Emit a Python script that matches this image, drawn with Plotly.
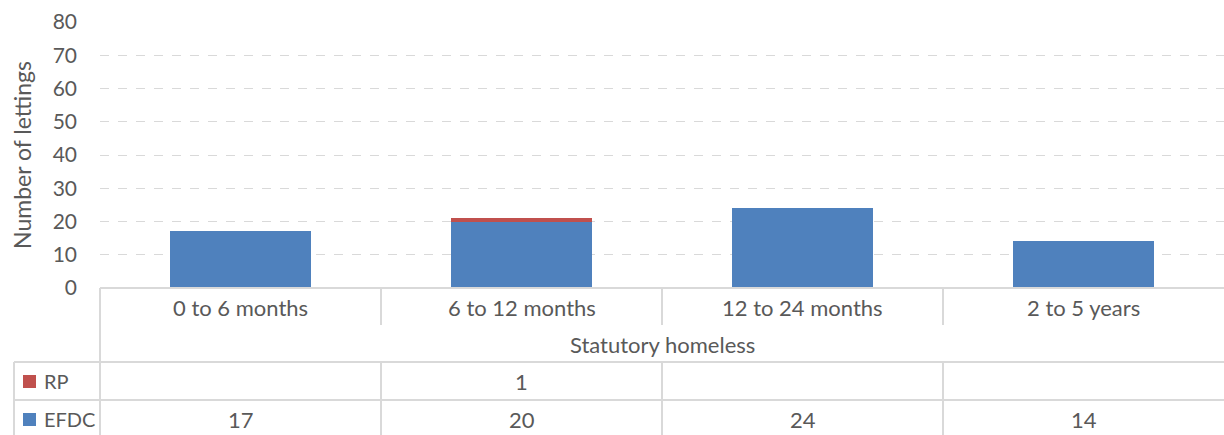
import plotly.graph_objects as go

categories = ["0 to 6 months", "6 to 12 months", "12 to 24 months", "2 to 5 years"]
group_label = "Statutory homeless"
series_names = ["EFDC", "RP"]
efdc = [17, 20, 24, 14]
rp = [None, 1, None, None]
colors = {"EFDC": "#4F81BD", "RP": "#C0504D"}
y_ticks = [0, 10, 20, 30, 40, 50, 60, 70, 80]

W, H = 1224, 435
ML, MR, MT, MB = 100, 0, 22, 147
PW, PH = W - ML - MR, H - MT - MB
FONT = "Lato"
TXT = "#595959"
LINE = "#D9D9D9"
FS = 22

def px_to_py(py):
    return (H - MB - py) / PH

def px_to_px(px):
    return (px - ML) / PW

fig = go.Figure()
fig.add_trace(go.Bar(x=categories, y=efdc, name="EFDC", marker_color=colors["EFDC"], marker_line_width=0))
fig.add_trace(go.Bar(x=categories, y=rp, name="RP", marker_color=colors["RP"], marker_line_width=0))

n = len(categories)
shapes = []
annots = []

def hline(x0, x1, py):
    shapes.append(dict(type="line", xref="paper", yref="paper", x0=x0, x1=x1,
                       y0=px_to_py(py), y1=px_to_py(py), line=dict(color=LINE, width=2)))

def vline(x, py0, py1):
    shapes.append(dict(type="line", xref="paper", yref="paper", x0=x, x1=x,
                       y0=px_to_py(py0), y1=px_to_py(py1), line=dict(color=LINE, width=2)))

# axis / table lines
hline(0, 1, 288)
hline(px_to_px(14), 1, 362)
hline(px_to_px(14), 1, 400)
vline(0, 288, 440)
vline(px_to_px(14), 362, 440)
for i in range(1, n):
    vline(i / n, 288, 325)
    vline(i / n, 362, 440)

# category labels
for c in categories:
    annots.append(dict(x=c, xref="x", y=px_to_py(307), yref="paper", text=c, showarrow=False,
                       font=dict(family=FONT, size=FS, color=TXT), xanchor="center", yanchor="middle"))
annots.append(dict(x=0.5, xref="paper", y=px_to_py(344), yref="paper", text=group_label, showarrow=False,
                   font=dict(family=FONT, size=FS, color=TXT), xanchor="center", yanchor="middle"))

rows = {"RP": (rp, 381), "EFDC": (efdc, 419)}
for name, (vals, py) in rows.items():
    shapes.append(dict(type="rect", xref="paper", yref="paper", x0=px_to_px(23), x1=px_to_px(36),
                       y0=px_to_py(py + 7), y1=px_to_py(py - 6), fillcolor=colors[name], line=dict(width=0)))
    annots.append(dict(x=px_to_px(42), xref="paper", y=px_to_py(py), yref="paper", text=name, showarrow=False,
                       font=dict(family=FONT, size=20, color=TXT), xanchor="left", yanchor="middle"))
    for c, v in zip(categories, vals):
        if v is None:
            continue
        annots.append(dict(x=c, xref="x", y=px_to_py(py), yref="paper", text=str(v), showarrow=False,
                           font=dict(family=FONT, size=FS, color=TXT), xanchor="center", yanchor="middle"))

fig.update_layout(
    width=W, height=H,
    margin=dict(l=ML, r=MR, t=MT, b=MB, pad=0, autoexpand=False),
    barmode="stack", bargap=0.5,
    plot_bgcolor="white", paper_bgcolor="white",
    showlegend=False,
    shapes=shapes, annotations=annots,
    font=dict(family=FONT, size=FS, color=TXT),
)
fig.update_xaxes(showticklabels=False, showgrid=False, showline=False, zeroline=False,
                 range=[-0.5, n - 0.5], fixedrange=True, automargin=False)
fig.update_yaxes(range=[0, 80], tickvals=y_ticks, showgrid=True, gridcolor=LINE, griddash="dash",
                 gridwidth=1, zeroline=False, showline=False, ticklabelstandoff=22, automargin=False,
                 tickfont=dict(family=FONT, size=21, color=TXT),
                 title=dict(text="Number of lettings", font=dict(family=FONT, size=23, color=TXT), standoff=14))

fig.write_html("out.html", config={"displayModeBar": False},
               post_script="document.body.style.margin='0';document.body.style.overflow='hidden';")
